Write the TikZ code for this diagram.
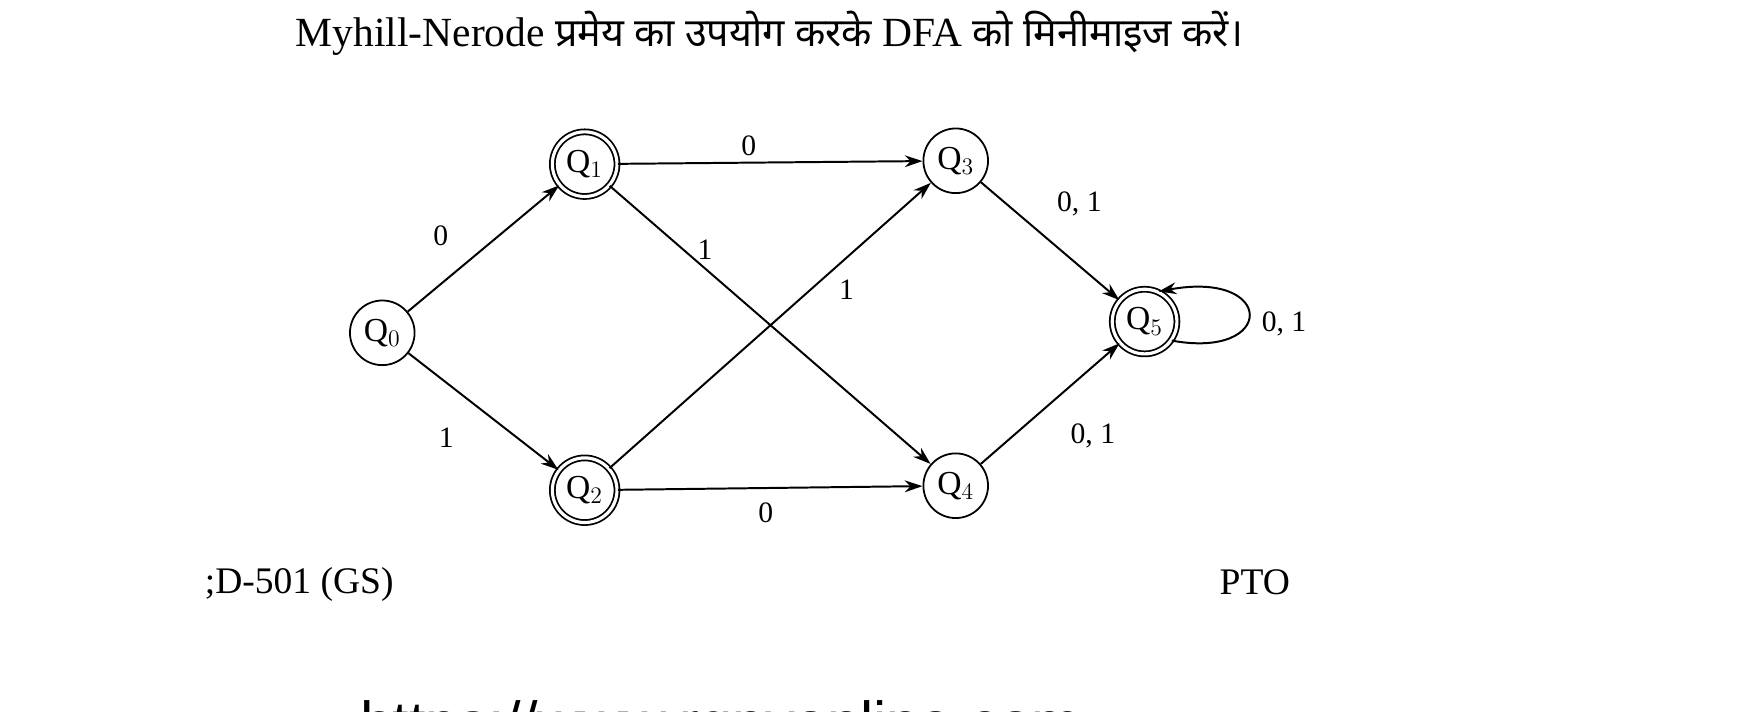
\documentclass[tikz,border=0pt]{standalone}
\usepackage{fontspec}
\setmainfont{Liberation Serif}
\newfontfamily\deva[Script=Devanagari]{Noto Sans}
\newfontfamily\urlfont{Liberation Sans}
\usetikzlibrary{arrows.meta}
\begin{document}
\begin{tikzpicture}[x=0.02cm,y=-0.02cm,
  st/.style={circle,draw,line width=0.9pt,minimum size=1.15cm,inner sep=0pt,font=\fontsize{17}{17}\selectfont},
  acc/.style={st,double,double distance=1.6pt},
  tr/.style={-{Stealth[length=9pt,width=6pt]},line width=1pt},
  lb/.style={font=\fontsize{15}{15}\selectfont}]
\useasboundingbox (0,0) rectangle (1560,632.6);
\node[font=\fontsize{21}{21}\selectfont,anchor=west] (title) at (257,30) {Myhill-Nerode {\deva\fontsize{20}{20}\selectfont प्रमेय का उपयोग करके} DFA {\deva\fontsize{20}{20}\selectfont को मिनीमाइज करें।}};
\node[st]  (q0) at (340,296) {Q$_0$};
\node[acc] (q1) at (520,146) {Q$_1$};
\node[acc] (q2) at (520,436) {Q$_2$};
\node[st]  (q3) at (850,143) {Q$_3$};
\node[st]  (q4) at (850,432) {Q$_4$};
\node[acc] (q5) at (1018,286) {Q$_5$};
\draw[tr] (q0) -- (q1);
\draw[tr] (q0) -- (q2);
\draw[tr] (q1) -- (q3);
\draw[tr] (q1) -- (q4);
\draw[tr] (q2) -- (q3);
\draw[tr] (q2) -- (q4);
\draw[tr] (q3) -- (q5);
\draw[tr] (q4) -- (q5);
\draw[tr] (q5.-35) .. controls (1135,320) and (1135,240) .. (q5.65);
\node[lb] (l01) at (392,210) {0};
\node[lb] (l02) at (397,389) {1};
\node[lb] (l13) at (666,130) {0};
\node[lb] (l14) at (627,222) {1};
\node[lb] (l23) at (753,258) {1};
\node[lb] (l24) at (681,456) {0};
\node[lb] (l35) at (960,181) {0, 1};
\node[lb] (l45) at (972,388) {0, 1};
\node[lb] (l55) at (1142,288) {0, 1};
\node[font=\fontsize{19}{19}\selectfont,anchor=west] (code) at (176,520) {;D-501 (GS)};
\node[font=\fontsize{19}{19}\selectfont] (pto) at (1116,518) {PTO};
\node[font=\urlfont\fontsize{30}{30}\selectfont,anchor=west] (url) at (314,648) {https://www.rgpvonline.com};
\end{tikzpicture}
\end{document}
